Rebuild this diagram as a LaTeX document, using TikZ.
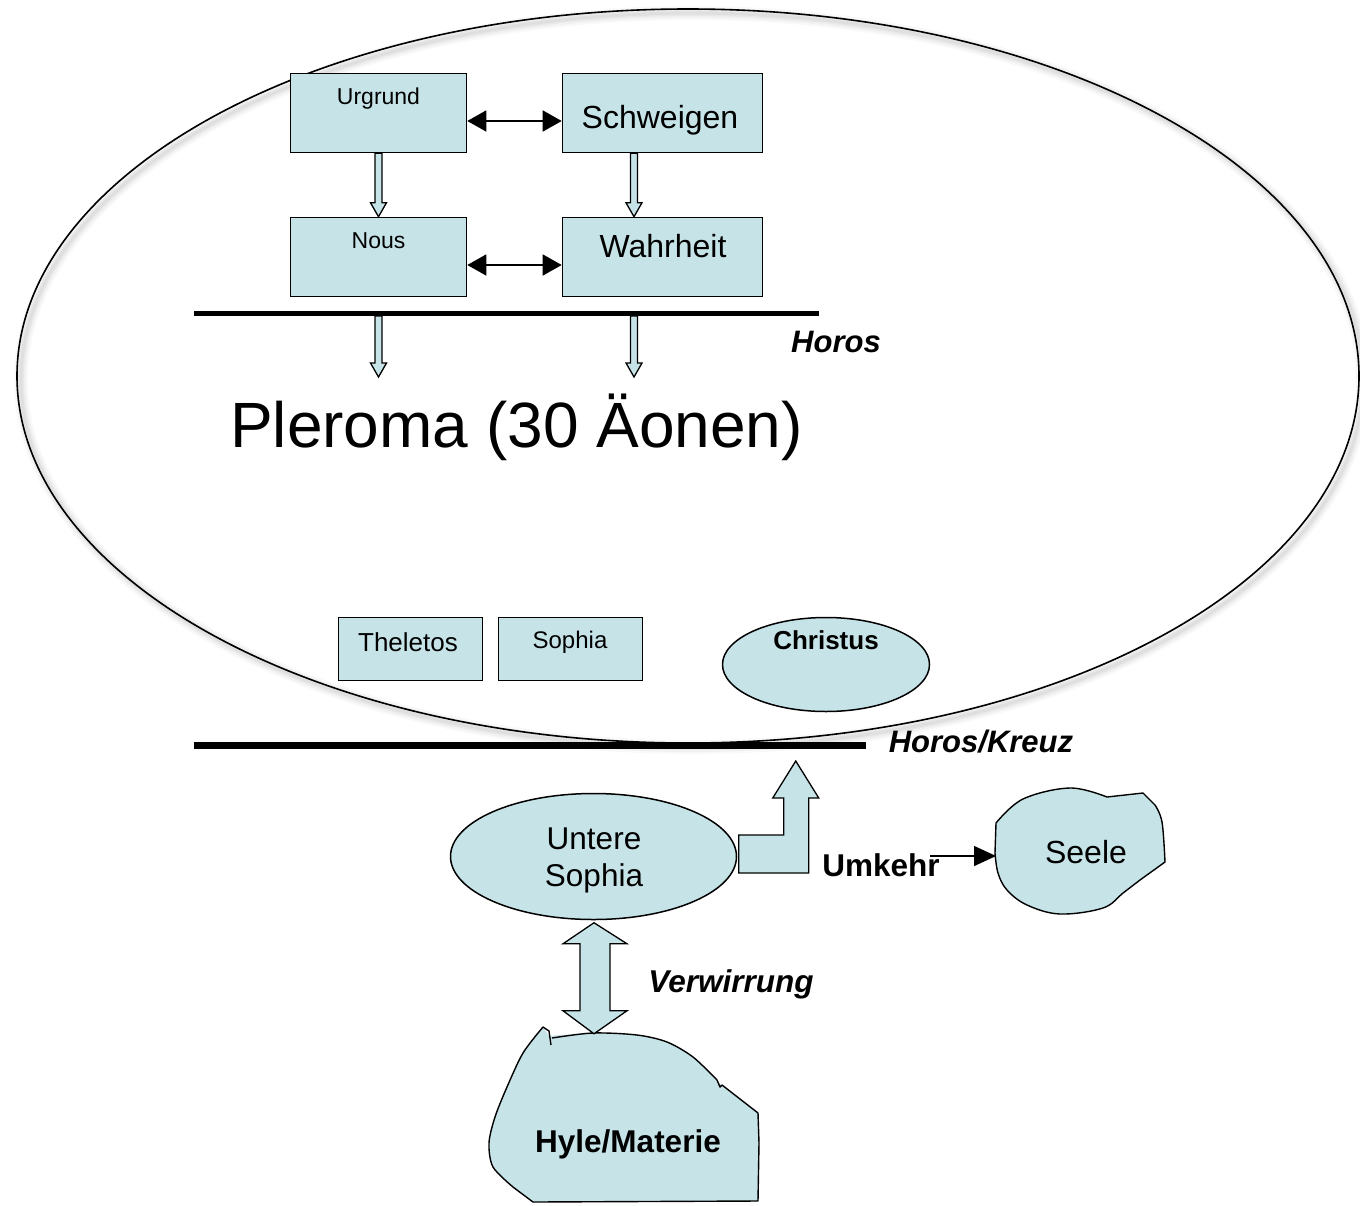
\documentclass[tikz,border=0pt]{standalone}
\usepackage{fontspec}
\setmainfont{Liberation Sans}
\usetikzlibrary{arrows.meta,calc,shapes.geometric}
\definecolor{aeon}{RGB}{198,228,232}
\newcommand\setfs[1]{\fontsize{#1}{#1}\selectfont}

\begin{document}
\begin{tikzpicture}[x=1pt,y=-1pt,
  box/.style={draw=black, line width=1.6pt, fill=aeon, inner sep=0pt,
              minimum width=#1},
  oval/.style={draw=black, line width=1.5pt, fill=aeon, ellipse, inner sep=0pt},
  txt/.style={anchor=base, inner sep=0pt, font=\setfs{#1}},
  btxt/.style={anchor=base, inner sep=0pt, font=\setfs{#1}\bfseries},
  bitxt/.style={anchor=base, inner sep=0pt, font=\setfs{#1}\bfseries\itshape},
  hollow/.style={draw=black, line width=1.3pt, fill=aeon, line join=miter},
  dbl/.style={line width=1.6pt,
              {Triangle[length=19pt,width=21pt]}-{Triangle[length=19pt,width=21pt]}},
  thinarrow/.style={line width=1.4pt, -{Triangle[length=22pt,width=20pt]}},
  bar/.style={line width=#1},
  downblock/.style={to path={
    let \p1=(\tikztostart), \p2=(\tikztotarget) in
    (\x1-3.5pt,\y1) -- (\x1-3.5pt,\y2+14pt) -- (\x1-8pt,\y2+14pt) -- (\x1,\y2)
    -- (\x1+8pt,\y2+14pt) -- (\x1+3.5pt,\y2+14pt) -- (\x1+3.5pt,\y1) -- cycle}}
]
\useasboundingbox (0,0) rectangle (1360,1205);

% Pleroma: soft shadow, then the outline
\foreach \w/\o in {14/0.025, 10/0.03, 6/0.035, 3/0.04}
  \draw[black, opacity=\o, line width=\w pt] (692,380) ellipse [x radius=671, y radius=367];
\draw[line width=1.6pt] (688,376) ellipse [x radius=671, y radius=367];

% first tetrad
\node[box=176pt, minimum height=79pt] (urgrund)   at (378.5,113) {};
\node[box=200pt, minimum height=79pt] (schweigen) at (662.5,113) {};
\node[box=176pt, minimum height=79pt] (nous)      at (378.5,257) {};
\node[box=200pt, minimum height=79pt] (wahrheit)  at (662.5,257) {};
\node[txt=23] (urgrundT)   at (378.5,104) {Urgrund};
\node[txt=32] (schweigenT) at (660,128)   {Schweigen};
\node[txt=23] (nousT)      at (378.5,248) {Nous};
\node[txt=32] (wahrheitT)  at (663,257)   {Wahrheit};

\draw[dbl] ([yshift=-8pt]urgrund.east) -- ([yshift=-8pt]schweigen.west);
\draw[dbl] ([yshift=-8pt]nous.east) -- ([yshift=-8pt]wahrheit.west);
\draw[hollow] (urgrund.south) to[downblock] (nous.north);
\draw[hollow] ([xshift=-28.5pt]schweigen.south) to[downblock] ([xshift=-28.5pt]wahrheit.north);

% upper Horos
\coordinate (horosL) at (194,313.5);
\coordinate (horosR) at (819,313.5);
\draw[bar=5pt] (horosL) -- (horosR);
\node[bitxt=31] (horos) at (836,352) {Horos};
\coordinate (leftTop)  at (378.5,316);
\coordinate (leftEnd)  at (378.5,377);
\coordinate (rightTop) at (634,316);
\coordinate (rightEnd) at (634,377);
\draw[hollow] (leftTop) to[downblock] (leftEnd);
\draw[hollow] (rightTop) to[downblock] (rightEnd);

\node[txt=64] (pleroma) at (516.5,447) {Pleroma (30 Äonen)};

% lower aeons
\node[box=144pt, minimum height=63pt] (theletos) at (410.5,649) {};
\node[box=144pt, minimum height=63pt] (sophia)   at (570.5,649) {};
\node[txt=26] (theletosT) at (408,651) {Theletos};
\node[txt=24] (sophiaT)   at (570,648) {Sophia};
\node[oval, minimum width=207pt, minimum height=94pt] (christus) at (826,664.5) {};
\node[btxt=26] (christusT) at (826,649) {Christus};

% Horos / Kreuz
\coordinate (kreuzL) at (194,745.5);
\coordinate (kreuzR) at (866,745.5);
\draw[bar=7pt] (kreuzL) -- (kreuzR);
\node[bitxt=31] (kreuz) at (981,752) {Horos/Kreuz};

% lower Sophia
\node[oval, minimum width=286pt, minimum height=126pt] (us) at (593.5,856.5) {};
\node[txt=31.5] (usT1) at (594,849) {Untere};
\node[txt=31.5] (usT2) at (594,886) {Sophia};

% turning back up towards the cross
\draw[hollow] (us.east) ++(1.5,-21.5) -- ++(45,0) -- ++(0,-37) -- ++(-11,0)
  -- ++(23,-37) -- ++(23,37) -- ++(-10,0) -- ++(0,75) -- ++(-70,0) -- cycle;
\node[btxt=31.5] (umkehr) at (881,876) {Umkehr};

% Seele
\filldraw[fill=aeon, draw=black, line width=1.4pt]
  plot[smooth, tension=.6] coordinates {(996,823) (1023,799) (1070,788) (1107,797)}
  -- (1143,793)
  -- plot[smooth, tension=.6] coordinates {(1155,805) (1162,822) (1165,862)}
  -- plot[smooth, tension=.6] coordinates {(1140,880) (1123,893) (1103,908) (1060,914)
       (1027,905) (1007,890) (998,873) (995,853)}
  -- cycle;
\node[txt=32] (seele) at (1086,863) {Seele};
\coordinate (umkStart) at (930,856);
\coordinate (seeleW) at (996,856);
\draw[thinarrow] (umkStart) -- (seeleW);

% Hyle
\fill[aeon]
  plot[smooth, tension=.5] coordinates {(549,1036) (593,1033) (637,1035) (667,1042) (693,1057) (717,1080)}
  -- (722,1086) -- (758,1113) -- (759,1143) -- (758,1201) -- (533,1202)
  -- plot[smooth, tension=.5] coordinates {(513,1187) (493,1167) (489,1143) (495,1117) (507,1087) (523,1053) (543,1027)}
  -- cycle;
\draw[line width=1.4pt, line join=round]
  plot[smooth, tension=.5] coordinates {(552,1038) (593,1033) (637,1035) (667,1042) (693,1057) (717,1080)}
  -- (720,1087) -- (722,1085) -- (758,1113) -- (759,1143) -- (758,1201) -- (533,1202)
  -- plot[smooth, tension=.5] coordinates {(513,1187) (493,1167) (489,1143) (495,1117) (507,1087) (523,1053) (543,1027)}
  -- (549,1031) -- (551,1045);
\node[btxt=31.5] (hyle) at (628,1152) {Hyle/Materie};

% confusion between lower Sophia and matter
\draw[hollow] (us.south) ++(0.5,2.5) -- ++(33,21) -- ++(-17,0) -- ++(0,67) -- ++(17,0)
  -- ++(-33,23) -- ++(-31,-23) -- ++(17,0) -- ++(0,-67) -- ++(-17,0) -- cycle;
\node[bitxt=31.5] (verwirrung) at (731,992) {Verwirrung};

\end{tikzpicture}
\end{document}
